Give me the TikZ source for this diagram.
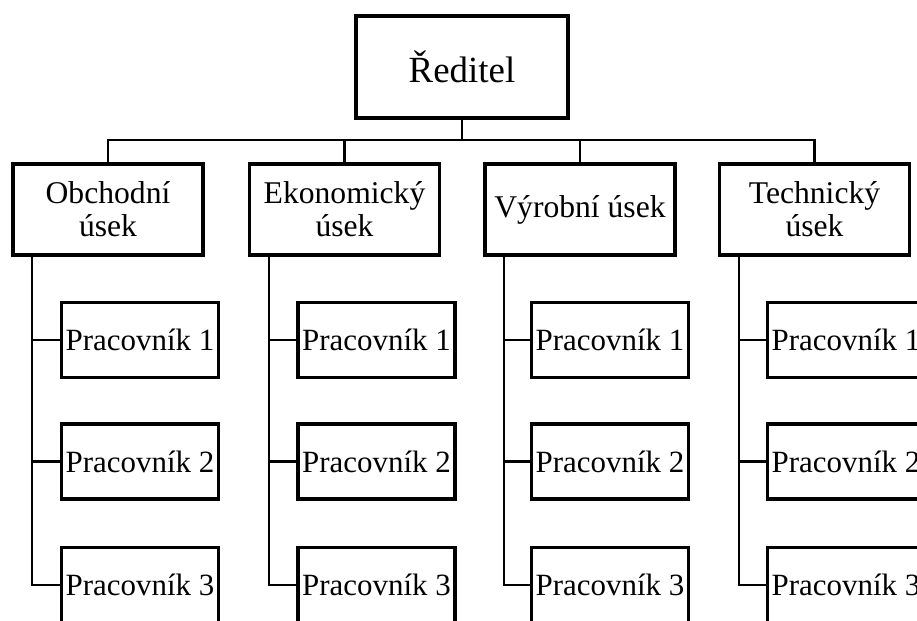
\documentclass[tikz,border=0pt]{standalone}
\usepackage{fontspec}
\setmainfont{Liberation Serif}
\usetikzlibrary{positioning}
\tikzset{
  boss/.style={draw,line width=2pt,inner sep=0pt,minimum width=4.24cm,minimum height=2.04cm,font=\fontsize{21}{24}\selectfont},
  dept/.style={draw,line width=2pt,inner sep=0pt,minimum width=3.8cm,minimum height=1.82cm,align=center,font=\fontsize{18}{18.8}\selectfont},
  worker/.style={draw,line width=2pt,inner sep=0pt,minimum width=3.14cm,minimum height=1.5cm,font=\fontsize{17.6}{20}\selectfont},
  link/.style={line width=1.3pt}
}
\begin{document}
\begin{tikzpicture}[x=0.02cm,y=-0.02cm]
        \clip (0,0) rectangle (917,621);
        % Director
        \node[boss] (root) at (462,67) {Ředitel};
        \coordinate (bus) at (462,140);

        % Departments
        \node[dept] (obch) at (108,209.5) {Obchodní\\úsek};
        \node[dept] (ekon) at (344.5,209.5) {Ekonomický\\úsek};
        \node[dept] (vyr) at (580,209.5) {Výrobní úsek};
        \node[dept] (tech) at (814.5,209.5) {Technický\\úsek};

        % Workers of each department
        \begin{scope}[shift={(140,0)}]
            \node[worker] (o1) at (0,340) {Pracovník 1};
            \node[worker] (o2) at (0,461.5) {Pracovník 2};
            \node[worker] (o3) at (0,585) {Pracovník 3};
        \end{scope}
        \begin{scope}[shift={(376.5,0)}]
            \node[worker] (e1) at (0,340) {Pracovník 1};
            \node[worker] (e2) at (0,461.5) {Pracovník 2};
            \node[worker] (e3) at (0,585) {Pracovník 3};
        \end{scope}
        \begin{scope}[shift={(610,0)}]
            \node[worker] (v1) at (0,340) {Pracovník 1};
            \node[worker] (v2) at (0,461.5) {Pracovník 2};
            \node[worker] (v3) at (0,585) {Pracovník 3};
        \end{scope}
        \begin{scope}[shift={(846,0)}]
            \node[worker] (t1) at (0,340) {Pracovník 1};
            \node[worker] (t2) at (0,461.5) {Pracovník 2};
            \node[worker] (t3) at (0,585) {Pracovník 3};
        \end{scope}

        % Director to departments
        \draw[link] (root.south) -- (bus);
        \draw[link] (bus) -| (obch.north);
        \draw[link] (bus) -| (ekon.north);
        \draw[link] (bus) -| (vyr.north);
        \draw[link] (bus) -| (tech.north);

        % Departments to workers
        \coordinate (otrunk) at ([xshift=0.42cm]obch.south west);
        \coordinate (etrunk) at ([xshift=0.42cm]ekon.south west);
        \coordinate (vtrunk) at ([xshift=0.42cm]vyr.south west);
        \coordinate (ttrunk) at ([xshift=0.42cm]tech.south west);
        \draw[link] (otrunk) |- (o3.west);
        \draw[link] (o1.west) -- (o1.west -| otrunk);
        \draw[link] (o2.west) -- (o2.west -| otrunk);
        \draw[link] (etrunk) |- (e3.west);
        \draw[link] (e1.west) -- (e1.west -| etrunk);
        \draw[link] (e2.west) -- (e2.west -| etrunk);
        \draw[link] (vtrunk) |- (v3.west);
        \draw[link] (v1.west) -- (v1.west -| vtrunk);
        \draw[link] (v2.west) -- (v2.west -| vtrunk);
        \draw[link] (ttrunk) |- (t3.west);
        \draw[link] (t1.west) -- (t1.west -| ttrunk);
        \draw[link] (t2.west) -- (t2.west -| ttrunk);
\end{tikzpicture}
\end{document}
